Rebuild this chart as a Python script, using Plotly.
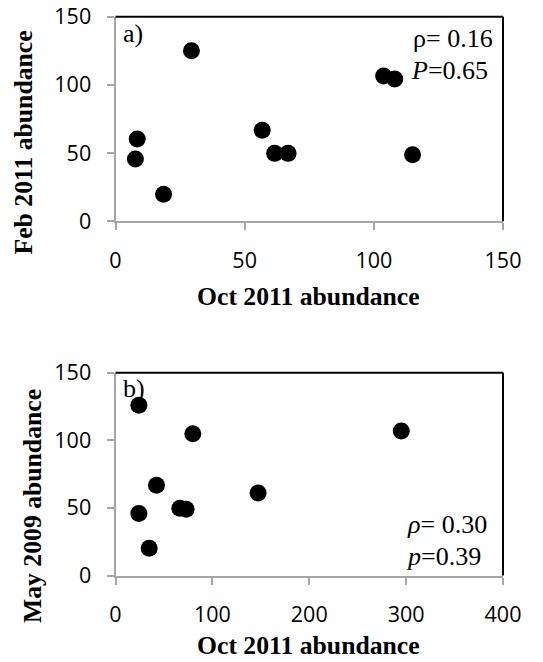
import plotly.graph_objects as go

# Panel a: Oct 2011 vs Feb 2011 abundance
a_oct2011 = [29.4, 8.4, 7.7, 18.6, 56.8, 61.6, 66.8, 103.8, 108.1, 115.0]
a_feb2011 = [125.0, 60.3, 45.7, 19.8, 66.7, 49.8, 49.8, 106.5, 104.3, 48.8]

# Panel b: Oct 2011 vs May 2009 abundance
b_oct2011 = [24.1, 79.8, 295.0, 42.3, 147.2, 24.1, 66.4, 72.9, 34.8]
b_may2009 = [125.9, 104.9, 106.9, 66.7, 61.1, 45.8, 49.8, 49.0, 20.2]

a_xticks = [0, 50, 100, 150]
b_xticks = [0, 100, 200, 300, 400]
yticks = [0, 50, 100, 150]

W, H = 543, 662
GRAY = "#a6a6a6"
SERIF = "Liberation Serif"
SANS = "Open Sans"

fig = go.Figure()
fig.add_trace(go.Scatter(x=a_oct2011, y=a_feb2011, mode="markers",
                         marker=dict(size=17, color="black"),
                         xaxis="x", yaxis="y", showlegend=False))
fig.add_trace(go.Scatter(x=b_oct2011, y=b_may2009, mode="markers",
                         marker=dict(size=17, color="black"),
                         xaxis="x2", yaxis="y2", showlegend=False))

xdom = [115.5 / W, 503 / W]
ydom_a = [(H - 221.3) / H, (H - 16.7) / H]
ydom_b = [(H - 575.5) / H, (H - 372.7) / H]

axis_common = dict(showline=True, linecolor=GRAY, linewidth=2, ticks="outside",
                   tickcolor=GRAY, tickwidth=2, showgrid=False, zeroline=False,
                   automargin=False,
                   tickfont=dict(family=SANS, size=21.5, color="black"))

fig.update_layout(
    width=W, height=H, margin=dict(l=0, r=0, t=0, b=0, autoexpand=False),
    plot_bgcolor="white", paper_bgcolor="white",
    xaxis=dict(domain=xdom, range=[0, 150], tickvals=a_xticks, ticklen=7,
               anchor="y", ticklabelstandoff=12, **axis_common),
    yaxis=dict(domain=ydom_a, range=[0, 150], tickvals=yticks, ticklen=7,
               anchor="x", ticklabelstandoff=11, **axis_common),
    xaxis2=dict(domain=xdom, range=[0, 400], tickvals=b_xticks, ticklen=7,
                anchor="y2", ticklabelstandoff=12, **axis_common),
    yaxis2=dict(domain=ydom_b, range=[0, 150], tickvals=yticks, ticklen=7,
                anchor="x2", ticklabelstandoff=11, **axis_common),
)

# top and right frame lines (black)
for xr, yr in (("x domain", "y domain"), ("x2 domain", "y2 domain")):
    fig.add_shape(type="line", xref=xr, yref=yr, x0=0, x1=1, y0=1, y1=1,
                  line=dict(color="black", width=2))
    fig.add_shape(type="line", xref=xr, yref=yr, x0=1, x1=1, y0=0, y1=1,
                  line=dict(color="black", width=2))

txt = dict(family=SERIF, size=26, color="black")
ttl = dict(family=SERIF, size=25.7, color="black")

ann = [
    dict(text="a)", xref="x domain", yref="y domain", x=(121 - 115) / 388,
         y=(221.3 - 33) / 204.6, xanchor="left", yanchor="middle", font=txt),
    dict(text="ρ= 0.16", xref="x domain", yref="y domain", x=(411 - 115) / 388,
         y=(221.3 - 38) / 204.6, xanchor="left", yanchor="middle", font=txt),
    dict(text="<i>P</i>=0.65", xref="x domain", yref="y domain", x=(409 - 115) / 388,
         y=(221.3 - 70) / 204.6, xanchor="left", yanchor="middle", font=txt),
    dict(text="b)", xref="x2 domain", yref="y2 domain", x=(121 - 115) / 388,
         y=(575.7 - 389) / 203, xanchor="left", yanchor="middle", font=txt),
    dict(text="<i>ρ</i>= 0.30", xref="x2 domain", yref="y2 domain", x=(405 - 115) / 388,
         y=(575.7 - 525) / 203, xanchor="left", yanchor="middle", font=txt),
    dict(text="<i>p</i>=0.39", xref="x2 domain", yref="y2 domain", x=(404 - 115) / 388,
         y=(575.7 - 557) / 203, xanchor="left", yanchor="middle", font=txt),
    dict(text="<b>Oct 2011 abundance</b>", xref="paper", yref="paper",
         x=308 / W, y=(H - 296) / H, xanchor="center", yanchor="middle", font=ttl),
    dict(text="<b>Oct 2011 abundance</b>", xref="paper", yref="paper",
         x=308 / W, y=0, xanchor="center", yanchor="bottom", font=ttl),
    dict(text="<b>Feb 2011 abundance</b>", xref="paper", yref="paper", textangle=-90,
         x=23 / W, y=(H - 142.5) / H, xanchor="center", yanchor="middle", font=ttl),
    dict(text="<b>May 2009 abundance</b>", xref="paper", yref="paper", textangle=-90,
         x=32 / W, y=(H - 506) / H, xanchor="center", yanchor="middle", font=ttl),
]
for a in ann:
    a["showarrow"] = False
    fig.add_annotation(**a)

fig.write_html("out.html")
